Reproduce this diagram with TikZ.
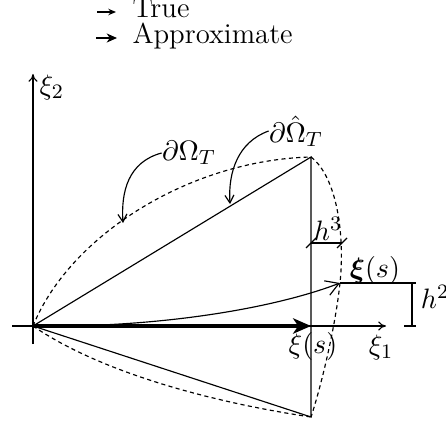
\documentclass[tikz,border=0pt]{standalone}
\usepackage{amsmath,bm}
\usetikzlibrary{arrows.meta}
\tikzset{
  thinline/.style={line width=0.45pt},
  dashline/.style={line width=0.45pt, dash pattern=on 1.6pt off 1.3pt},
  truearrow/.style={line width=0.45pt, -{Straight Barb[length=5pt,width=6pt]}},
  approxarrow/.style={line width=1.3pt, -{Stealth[length=7pt,width=6pt,inset=2pt]}},
  legtrue/.style={line width=0.45pt, -{Stealth[length=3pt,width=2.5pt,inset=1pt]}},
  legapprox/.style={line width=1.1pt, -{Stealth[length=4pt,width=3.5pt,inset=1.2pt]}},
  axisarrow/.style={line width=0.45pt, -{To[length=3pt,width=3.5pt]}},
  labelarrow/.style={line width=0.45pt, -{Straight Barb[length=3pt,width=3.5pt]}},
  lbl/.style={inner sep=0pt},
  tick/.style={line width=0.45pt}
}
\begin{document}
\begin{tikzpicture}[x=0.39pt,y=-0.39pt,font=\fontsize{11.2}{13}\selectfont]
\useasboundingbox (0,0) rectangle (446,425);
% legend
\coordinate (l1a) at (97,12);
\coordinate (l1b) at (116,12);
\coordinate (l2a) at (96,38);
\coordinate (l2b) at (117,38);
\draw[legtrue] (l1a) -- (l1b);
\draw[legapprox] (l2a) -- (l2b);
\node[lbl, anchor=base west] (ltrue) at (132,18) {True};
\node[lbl, anchor=base west] (lapprox) at (132,44) {Approximate};
% axes
\coordinate (O) at (33,326);
\coordinate (xl) at (12,326);
\coordinate (xr) at (386,326);
\coordinate (yb) at (33,344);
\coordinate (yt) at (33,74);
\draw[axisarrow] (xl) -- (xr);
\draw[axisarrow] (yb) -- (yt);
\node[lbl] (xi1) at (381,347) {$\xi_1$};
\node[lbl, anchor=west] (xi2) at (39,87) {$\xi_2$};
% triangle
\coordinate (A) at (311,157);
\coordinate (B) at (311,417);
\coordinate (Q) at (311,326);
\coordinate (P) at (340,283);
\draw[thinline] (O) -- (A) -- (B) -- cycle;
% dashed true boundary
\draw[dashline] (O) .. controls (70,235) and (190,160) .. (A);
\draw[dashline] (O) .. controls (100,372) and (210,402) .. (B);
\draw[dashline] (A) .. controls (337,177) and (345,235) .. (P)
                    .. controls (335,330) and (320,390) .. (B);
% arrows
\draw[approxarrow] (O) -- (Q);
\draw[truearrow] (O) .. controls (160,328) and (275,308) .. (P);
\node[lbl] (xis) at (313,346) {$\xi(s)$};
% h^3 dimension
\coordinate (h3a) at (311,243);
\coordinate (h3b) at (342,243);
\draw[thinline] (h3a) -- (h3b);
\draw[tick] ([shift={(-5,5)}]h3a) -- ([shift={(5,-5)}]h3a);
\draw[tick] ([shift={(-5,5)}]h3b) -- ([shift={(5,-5)}]h3b);
\node[lbl] (h3) at (328,229) {$h^3$};
% bold xi(s) and h^2 dimension
\coordinate (Pr) at (416,283);
\coordinate (h2t) at (412,283);
\coordinate (h2b) at (412,326);
\coordinate (h2bl) at (404,326);
\coordinate (h2br) at (416,326);
\draw[thinline] (P) -- (Pr);
\draw[thinline] (h2t) -- (h2b);
\draw[tick] (h2bl) -- (h2br);
\node[lbl] (bxis) at (375,270) {$\boldsymbol{\xi}(s)$};
\node[lbl] (h2) at (435,297) {$h^2$};
% boundary labels
\node[lbl] (dO) at (189,153) {$\partial\Omega_T$};
\node[lbl] (dOh) at (296,131) {$\partial\hat{\Omega}_T$};
\coordinate (c1) at (123,223);
\coordinate (c2) at (230,204);
\draw[labelarrow] (dO.west) .. controls (128,162) and (121,192) .. (c1);
\draw[labelarrow] (dOh.west) .. controls (238,142) and (228,172) .. (c2);
\end{tikzpicture}
\end{document}
